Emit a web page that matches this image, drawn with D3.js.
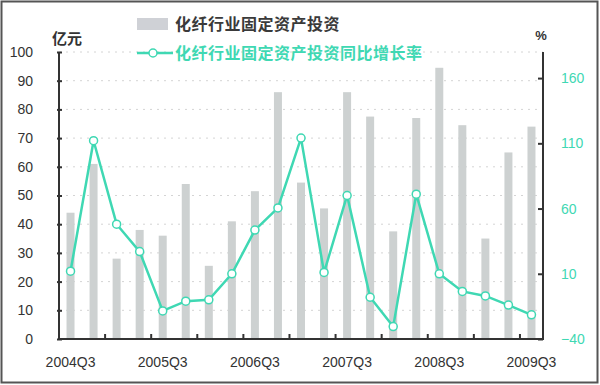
<!DOCTYPE html>
<html><head><meta charset="utf-8">
<script src="https://cdn.jsdelivr.net/npm/d3@7/dist/d3.min.js"></script>
<style>html,body{margin:0;padding:0;background:#fff;}</style>
</head><body>
<svg id="c" width="600" height="385"></svg>
<script>
const quarters = ["2004Q3","2004Q4","2005Q1","2005Q2","2005Q3","2005Q4","2006Q1","2006Q2","2006Q3","2006Q4","2007Q1","2007Q2","2007Q3","2007Q4","2008Q1","2008Q2","2008Q3","2008Q4","2009Q1","2009Q2","2009Q3"];
const investment = [44,61,28,38,36,54,25.5,41,51.5,86,54.5,45.5,86,77.5,37.5,77,94.5,74.5,35,65,74];
const growth = [12,112,48,27,-18.5,-11,-10,10,43.5,60.5,114,11,70,-8,-30.5,71,10,-3.5,-7,-14,-21.5];
const leftTicks = [0,10,20,30,40,50,60,70,80,90,100];
const rightTicks = [-40,10,60,110,160];
const xLabels = ["2004Q3","2005Q3","2006Q3","2007Q3","2008Q3","2009Q3"];
const legendNames = ["化纤行业固定资产投资","化纤行业固定资产投资同比增长率"];

const svg = d3.select("#c");
const L = 59, R = 543, T = 52, B = 339;
const teal = "#3fd8b3";
const x = d3.scaleBand().domain(quarters).range([L, R]);
const yL = d3.scaleLinear().domain([0,100]).range([B, T]);
const yR = d3.scaleLinear().domain([-40,180]).range([B, T]);

// frame
svg.append("rect").attr("x",1.5).attr("y",1.5).attr("width",596).attr("height",381)
  .attr("fill","none").attr("stroke","#555").attr("stroke-width",2);

// gridlines
svg.append("g").selectAll("line").data(leftTicks.filter(d=>d>0)).join("line")
  .attr("x1",L).attr("x2",R).attr("y1",d=>yL(d)).attr("y2",d=>yL(d))
  .attr("stroke","#d4d4d4").attr("stroke-dasharray","2,5");

// bars
const bw = 8;
svg.append("g").selectAll("rect").data(investment).join("rect")
  .attr("x",(d,i)=>x(quarters[i])+x.bandwidth()/2-bw/2)
  .attr("width",bw)
  .attr("y",d=>yL(d)).attr("height",d=>B-yL(d))
  .attr("fill","#cdd1d1");

// left axis
const axL = svg.append("g").attr("transform",`translate(${L},0)`)
  .call(d3.axisLeft(yL).tickValues(leftTicks).tickSize(-4).tickPadding(26).tickFormat(d3.format("d")));
axL.select(".domain").attr("stroke","#333").attr("stroke-width",2).attr("d",`M0,${T}V${B}`);
axL.selectAll(".tick line").attr("stroke","#333").attr("stroke-width",2).attr("x1",-2).attr("x2",3);
axL.selectAll("text").attr("font-family","Liberation Sans, Arial, sans-serif").attr("font-size",14).attr("fill","#333");

// right axis
const axR = svg.append("g").attr("transform",`translate(${R},0)`)
  .call(d3.axisRight(yR).tickValues(rightTicks).tickSize(-5).tickPadding(18));
axR.select(".domain").attr("stroke","#333").attr("stroke-width",2).attr("d",`M0,${T}V${B}`);
axR.selectAll(".tick line").attr("stroke","#333").attr("stroke-width",2);
axR.selectAll("text").attr("font-family","Liberation Sans, Arial, sans-serif").attr("font-size",14).attr("fill",teal);

// bottom axis
const tickBoundaries = quarters.map((q,i)=>i).filter(i=>i>0 && i%2===0).map(i=>L + i*x.step());
const axB = svg.append("g").attr("transform",`translate(0,${B})`);
axB.append("line").attr("x1",L-1).attr("x2",R+1).attr("stroke","#333").attr("stroke-width",2);
axB.selectAll(".bt").data(tickBoundaries).join("line").attr("class","bt")
  .attr("x1",d=>d).attr("x2",d=>d).attr("y1",0).attr("y2",-5).attr("stroke","#333").attr("stroke-width",2);
axB.selectAll("text").data(xLabels).join("text")
  .attr("x",d=>x(d)+x.bandwidth()/2).attr("y",28)
  .attr("text-anchor","middle").attr("font-family","Liberation Sans, Arial, sans-serif")
  .attr("font-size",14).attr("fill","#333").text(d=>d);

// line
const line = d3.line().x((d,i)=>x(quarters[i])+x.bandwidth()/2).y(d=>yR(d));
svg.append("path").datum(growth).attr("d",line).attr("fill","none")
  .attr("stroke",teal).attr("stroke-width",2.5);
svg.append("g").selectAll("circle").data(growth).join("circle")
  .attr("cx",(d,i)=>x(quarters[i])+x.bandwidth()/2).attr("cy",d=>yR(d)).attr("r",4)
  .attr("fill","#fff").attr("stroke",teal).attr("stroke-width",1.5);

// unit labels
svg.append("text").attr("x",52).attr("y",44).attr("font-family","Noto Sans CJK SC, sans-serif")
  .attr("font-size",15).attr("font-weight","bold").attr("fill","#333").text("亿元");
svg.append("text").attr("x",541).attr("y",40).attr("text-anchor","middle").attr("font-family","Liberation Sans, Arial, sans-serif")
  .attr("font-size",13).attr("font-weight","bold").attr("fill","#333").text("%");

// legend
const lg = svg.append("g");
lg.append("rect").attr("x",137).attr("y",18).attr("width",31).attr("height",12).attr("fill","#cfd1d6");
lg.append("text").attr("x",175).attr("y",30).attr("font-family","Noto Sans CJK SC, sans-serif")
  .attr("font-size",16).attr("font-weight","bold").attr("letter-spacing",0.5).attr("fill","#3a3a3a").text(legendNames[0]);
lg.append("line").attr("x1",137).attr("x2",173).attr("y1",53).attr("y2",53).attr("stroke",teal).attr("stroke-width",2.5);
lg.append("circle").attr("cx",153).attr("cy",53).attr("r",4).attr("fill","#fff").attr("stroke",teal).attr("stroke-width",1.5);
lg.append("text").attr("x",175).attr("y",59).attr("font-family","Noto Sans CJK SC, sans-serif")
  .attr("font-size",16).attr("font-weight","bold").attr("letter-spacing",0.5).attr("fill",teal).text(legendNames[1]);
</script>
</body></html>
